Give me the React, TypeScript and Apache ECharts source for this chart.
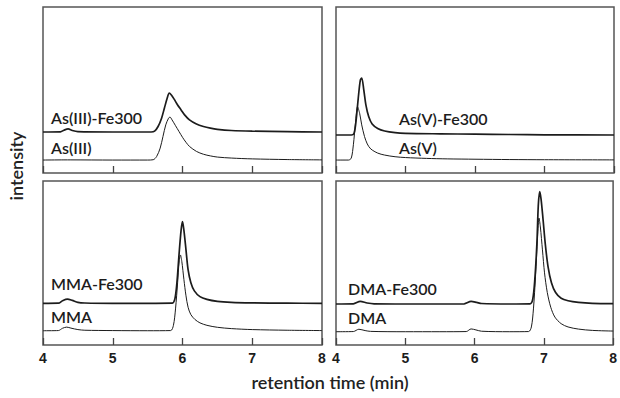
import React, { useEffect, useRef } from "react";
import * as echarts from "echarts";

// x values in minutes, y in arbitrary intensity units (0-100 panel scale)
const asIII: [number, number][] = [
  [4.0, 7.8], [4.3, 7.9], [4.4, 7.9], [5.0, 7.8], [5.5, 7.8], [5.58, 8.0], [5.63, 10], [5.68, 15], [5.72, 22],
  [5.76, 29], [5.8, 33], [5.82, 33.7], [5.85, 32], [5.9, 28.5], [5.95, 25], [6.0, 21.5], [6.05, 18.5], [6.1, 16],
  [6.2, 13], [6.3, 11.3], [6.4, 10.3], [6.5, 9.6], [6.7, 9.0], [7.0, 8.5], [7.5, 8.1], [8.0, 7.9],
];
const asIIIFe: [number, number][] = [
  [4.0, 24.7], [4.25, 24.8], [4.3, 25.8], [4.36, 26.6], [4.42, 25.6], [4.5, 24.9], [5.0, 24.7], [5.55, 24.7],
  [5.6, 25.2], [5.65, 28], [5.7, 33], [5.74, 39], [5.78, 45], [5.81, 48.2], [5.84, 47], [5.88, 44.5], [5.93, 41],
  [5.98, 38], [6.03, 35], [6.1, 32], [6.2, 29.5], [6.3, 28], [6.4, 27], [6.5, 26.3], [6.7, 25.6], [7.0, 25.2],
  [7.5, 24.9], [8.0, 24.7],
];
const asV: [number, number][] = [
  [4.0, 7.8], [4.18, 7.8], [4.22, 9], [4.25, 17], [4.28, 30], [4.31, 39.8], [4.34, 36], [4.37, 29], [4.41, 22],
  [4.45, 17.5], [4.5, 14.5], [4.6, 12], [4.7, 10.8], [4.85, 9.8], [5.0, 9.3], [5.3, 8.8], [5.6, 8.5], [6.0, 8.3],
  [6.5, 8.1], [7.0, 8.0], [8.0, 7.9],
];
const asVFe: [number, number][] = [
  [4.0, 22.9], [4.22, 22.9], [4.26, 24], [4.29, 32], [4.32, 45], [4.35, 56], [4.37, 57.2], [4.4, 50], [4.43, 41],
  [4.47, 34], [4.52, 29.5], [4.6, 26.8], [4.7, 25.3], [4.85, 24.3], [5.0, 23.9], [5.5, 23.6], [6.0, 23.4],
  [6.5, 23.2], [7.0, 23.0], [8.0, 22.9],
];
const mma: [number, number][] = [
  [4.0, 8.7], [4.22, 8.8], [4.28, 10.2], [4.34, 10.9], [4.4, 10.3], [4.5, 9.4], [4.6, 9.0], [5.0, 8.8], [5.5, 8.7],
  [5.83, 8.8], [5.87, 12], [5.9, 22], [5.93, 38], [5.95, 50], [5.97, 54.9], [5.99, 51], [6.02, 40], [6.05, 30],
  [6.08, 23], [6.12, 18.5], [6.18, 15.5], [6.25, 13.5], [6.35, 12], [6.5, 10.8], [6.7, 10], [7.0, 9.4], [7.5, 9.0],
  [8.0, 8.8],
];
const mmaFe: [number, number][] = [
  [4.0, 25.4], [4.22, 25.5], [4.28, 27], [4.35, 28], [4.42, 27.2], [4.5, 26], [4.6, 25.6], [5.0, 25.4], [5.5, 25.4],
  [5.85, 25.5], [5.89, 28], [5.92, 38], [5.95, 55], [5.98, 70], [6.0, 75.2], [6.02, 70], [6.05, 58], [6.08, 46],
  [6.12, 38], [6.17, 33], [6.25, 29.5], [6.35, 27.8], [6.5, 26.6], [6.7, 26], [7.0, 25.7], [7.5, 25.5], [8.0, 25.4],
];
const dma: [number, number][] = [
  [4.0, 8.1], [4.25, 8.2], [4.33, 9.6], [4.42, 8.8], [4.5, 8.3], [5.0, 8.1], [5.5, 8.1], [5.88, 8.2], [5.95, 9.8],
  [6.02, 9.2], [6.1, 8.4], [6.5, 8.1], [6.78, 8.2], [6.82, 11], [6.85, 22], [6.88, 42], [6.91, 66], [6.93, 77.4],
  [6.95, 72], [6.98, 58], [7.01, 44], [7.05, 32], [7.1, 23], [7.16, 17], [7.25, 13], [7.35, 11], [7.5, 9.7],
  [7.7, 8.9], [8.0, 8.5],
];
const dmaFe: [number, number][] = [
  [4.0, 25], [4.25, 25.1], [4.35, 26.6], [4.45, 25.6], [4.55, 25.1], [5.0, 25], [5.85, 25.1], [5.95, 26.6],
  [6.03, 26.0], [6.1, 25.3], [6.5, 25], [6.8, 25.1], [6.84, 28], [6.87, 40], [6.9, 62], [6.92, 85], [6.94, 93.5],
  [6.96, 89], [6.99, 76], [7.02, 62], [7.06, 48], [7.11, 38], [7.17, 32], [7.25, 28.5], [7.35, 27], [7.5, 26],
  [7.7, 25.4], [8.0, 25.2],
];

const upperLabels = ["As(III)-Fe300", "As(V)-Fe300", "MMA-Fe300", "DMA-Fe300"];
const lowerLabels = ["As(III)", "As(V)", "MMA", "DMA"];
const xTicks = [4, 5, 6, 7, 8];
const xTitle = "retention time (min)";
const yTitle = "intensity";

const FONT = "Lato, 'Open Sans', sans-serif";
const TICKFONT = "'Liberation Sans', Arial, sans-serif";
const INK = "#1c1c1c";

export default function App() {
  const ref = useRef<HTMLDivElement>(null);
  useEffect(() => {
    if (!ref.current) return;
    const chart = echarts.init(ref.current, null, { renderer: "svg" });
    const grids = [
      { left: 43, top: 7, width: 279, height: 166 },
      { left: 336, top: 7, width: 278, height: 166 },
      { left: 43, top: 181, width: 279, height: 164 },
      { left: 336, top: 181, width: 278, height: 164 },
    ].map((g) => ({ ...g, show: true, borderColor: "#555", borderWidth: 1.5, backgroundColor: "#fff" }));
    const xAxes = grids.map((_, i) => ({
      type: "value",
      gridIndex: i,
      min: xTicks[0],
      max: xTicks[xTicks.length - 1],
      interval: 1,
      axisLine: { show: false },
      axisTick: { show: true, inside: true, length: 7, lineStyle: { color: "#444", width: 1.3 } },
      splitLine: { show: false },
      axisLabel: {
        show: i >= 2,
        color: INK,
        fontFamily: TICKFONT,
        fontWeight: "bold",
        fontSize: 14,
        margin: 6,
      },
    }));
    const yAxes = grids.map((_, i) => ({ type: "value", gridIndex: i, min: 0, max: 100, show: false }));
    const traces = [
      [asIIIFe, asIII],
      [asVFe, asV],
      [mmaFe, mma],
      [dmaFe, dma],
    ];
    const series: any[] = [];
    traces.forEach((pair, i) => {
      pair.forEach((data, j) => {
        series.push({
          type: "line",
          xAxisIndex: i,
          yAxisIndex: i,
          data,
          showSymbol: false,
          smooth: 0.3,
          lineStyle: { color: INK, width: j === 0 ? 1.7 : 1 },
          silent: true,
        });
      });
    });
    const labelPos = [
      { x: 51, yu: 117, yl: 147 },
      { x: 399, yu: 118, yl: 147 },
      { x: 51, yu: 283, yl: 316 },
      { x: 348, yu: 288, yl: 317 },
    ];
    const graphic: any[] = [];
    labelPos.forEach((p, i) => {
      graphic.push({
        type: "text",
        x: p.x,
        y: p.yu,
        style: { text: upperLabels[i], fill: INK, font: `600 16px ${FONT}`, verticalAlign: "middle" },
      });
      graphic.push({
        type: "text",
        x: p.x,
        y: p.yl,
        style: { text: lowerLabels[i], fill: INK, font: `600 16px ${FONT}`, verticalAlign: "middle" },
      });
    });
    graphic.push({
      type: "text",
      x: 330,
      y: 382,
      style: { text: xTitle, fill: "#222", font: `600 18px ${FONT}`, align: "center", verticalAlign: "middle" },
    });
    graphic.push({
      type: "text",
      x: 16,
      y: 166,
      rotation: Math.PI / 2,
      style: { text: yTitle, fill: "#222", font: `600 18px ${FONT}`, align: "center", verticalAlign: "middle" },
    });
    chart.setOption({
      animation: false,
      backgroundColor: "#fff",
      grid: grids,
      xAxis: xAxes,
      yAxis: yAxes,
      series,
      graphic,
    });
    return () => chart.dispose();
  }, []);
  return <div ref={ref} style={{ position: "fixed", left: 0, top: 0, width: 620, height: 398 }} />;
}
